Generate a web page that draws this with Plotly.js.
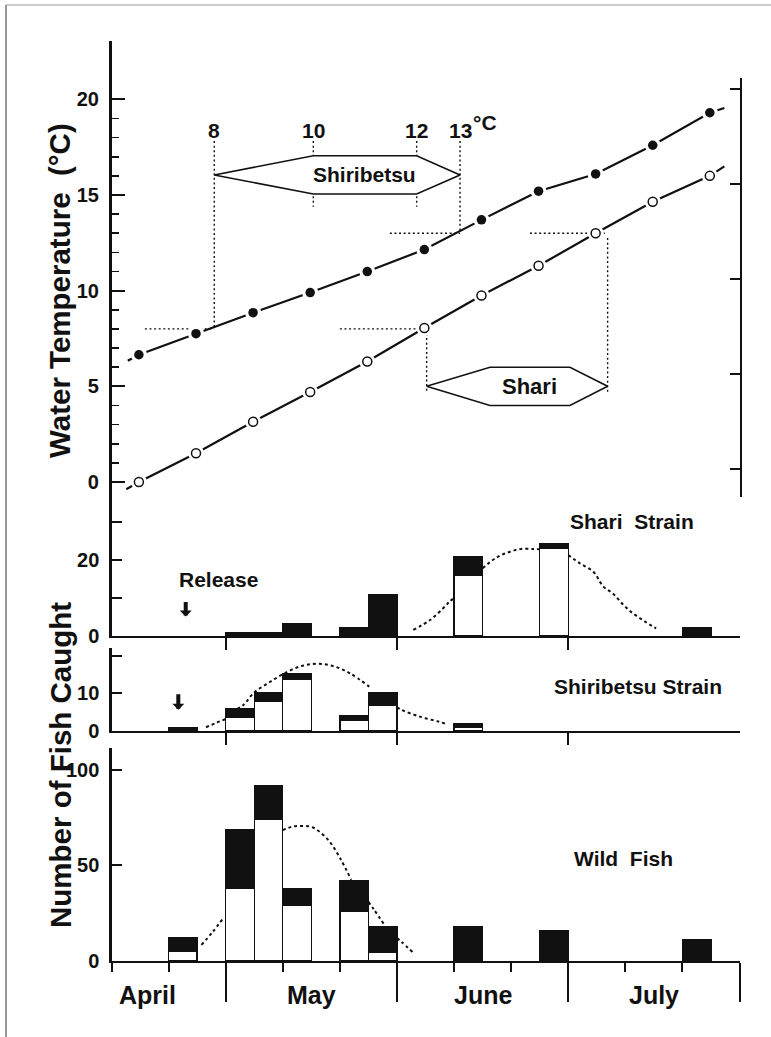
<!DOCTYPE html>
<html><head><meta charset="utf-8">
<script src="https://cdn.plot.ly/plotly-3.0.1.min.js"></script>
<style>html,body{margin:0;padding:0;background:#fff}#chart{width:771px;height:1037px}</style>
</head><body><div id="chart"></div>
<script>
// ================= DATA =================
// x axis unit = one 5-day half-period, 0 = 11 April
const halfPeriods = ['Apr 11','Apr 16','Apr 21','Apr 26','May 1','May 6','May 11','May 16','May 21','May 26',
  'Jun 1','Jun 6','Jun 11','Jun 16','Jun 21','Jun 26','Jul 1','Jul 6','Jul 11','Jul 16','Jul 21','Jul 26'];
const months = ['April', 'May', 'June', 'July'];
const monthCenters = [1.25, 7, 13, 19];
const monthBounds = [4, 10, 16, 22];
const halfTicks = [0, 2, 6, 8, 12, 14, 18, 20];

// water temperature (°C)
const tempDates = [0.96, 2.96, 4.96, 6.96, 8.96, 10.96, 12.96, 14.96, 16.96, 18.96, 20.96];
const shiribetsuTemp = [6.65, 7.75, 8.85, 9.9, 11.0, 12.15, 13.7, 15.2, 16.1, 17.6, 19.3];
const shariTemp = [0.0, 1.5, 3.15, 4.7, 6.3, 8.05, 9.75, 11.3, 13.0, 14.65, 16.0];
const shiribetsuLineEnds = [[0.57, 6.34], [21.47, 19.55]];
const shariLineEnds = [[0.52, -0.38], [21.47, 16.5]];

// dates at which 8, 10, 12, 13 °C are reached
const thresholdTemps = [8, 10, 12, 13];
const shiribetsuThreshDates = [3.6, 7.07, 10.69, 12.21];
const shariThreshDates = [11.04, 13.26, 16.06, 17.38];

// fish caught per half-period (white part / black part of each bar)
const shariWhite = [null,null,null,null,null,null,null,null,null,null,null,null,16,null,null,23,null,null,null,null,null,null];
const shariBlack = [null,null,null,null,1,1,3.3,null,2.2,11,null,null,5,null,null,1.3,null,null,null,null,2.3,null];
const shiribetsuWhite = [null,null,null,null,3.6,7.8,13.8,null,2.7,6.7,null,null,1.0,null,null,null,null,null,null,null,null,null];
const shiribetsuBlack = [null,null,1.0,null,2.2,2.4,1.3,null,1.3,3.5,null,null,1.0,null,null,null,null,null,null,null,null,null];
const wildWhite = [null,null,5,null,38,74,29,null,26,4.5,null,null,null,null,null,null,null,null,null,null,null,null];
const wildBlack = [null,null,7,null,31,18,9,null,16,13.5,null,null,18,null,null,16,null,null,null,null,11,null];

// dotted fitted curves (visible parts only)
const shariCurveX = [10.57, 11.16, 11.62, 11.84, 12.0, null, 13.0, 13.5, 13.94, 14.35, 14.76, 15.0, null, 16.0, 16.41, 16.88, 17.23, 17.56, 17.93, 18.26, 18.69, 19.08];
const shariCurveY = [1.6, 4.2, 7.3, 9.0, 10.0, null, 17.8, 20.7, 22.1, 22.9, 22.9, 22.8, null, 21.3, 19.1, 16.9, 13.0, 11.2, 8.2, 6.0, 3.8, 2.0];
const shiribetsuCurveX = [3.31, 3.68, 3.98, null, 4.4, 4.62, 5.0, 5.49, 5.99, 6.6, 7.19, 7.77, 8.35, 9.03, null, 10.0, 10.16, 10.8, 11.45, 11.68];
const shiribetsuCurveY = [1.0, 2.2, 3.1, null, 5.8, 6.9, 10.2, 12.7, 15.0, 17.1, 17.8, 17.2, 15.3, 11.75, null, 6.3, 5.6, 3.8, 2.5, 2.0];
const wildCurveX = [3.15, 3.55, 3.91, null, 6.0, 6.3, 6.58, 7.04, 7.59, 8.01, 8.4, null, 9.0, 9.19, 9.59, null, 10.0, 10.16, 10.56];
const wildCurveY = [8.4, 15.3, 22.3, null, 68.5, 70.2, 70.7, 70.0, 63.4, 53.8, 42.5, null, 31, 27, 18.3, null, 12, 10, 4.5];

// ================= STYLE / LAYOUT =================
const FONT = 'Liberation Sans, Arial, Helvetica, sans-serif';
const INK = '#111';
const W = 771, H = 1037;
const px = p => p / W;
const py = p => 1 - p / H;
const xDom = [px(111.5), px(739.5)];
const tickFont = {family: FONT, size: 20, color: INK, weight: 'bold'};
const barX = halfPeriods.map((_, i) => i + 0.5);

const traces = [];

// ---- top panel guides ----
const gx = [], gy = [];
function seg(x1, y1, x2, y2) { gx.push(x1, x2, null); gy.push(y1, y2, null); }
const labelBottom = 17.82;
// Shiribetsu
seg(shiribetsuThreshDates[0], labelBottom, shiribetsuThreshDates[0], thresholdTemps[0]);
seg(1.17, thresholdTemps[0], shiribetsuThreshDates[0], thresholdTemps[0]);
seg(shiribetsuThreshDates[1], labelBottom, shiribetsuThreshDates[1], 14.39);
seg(shiribetsuThreshDates[2], labelBottom, shiribetsuThreshDates[2], 14.39);
seg(shiribetsuThreshDates[3], labelBottom, shiribetsuThreshDates[3], thresholdTemps[3]);
seg(9.75, thresholdTemps[3], shiribetsuThreshDates[3], thresholdTemps[3]);
// Shari
seg(8.0, thresholdTemps[0], shariThreshDates[0], thresholdTemps[0]);
seg(shariThreshDates[0], thresholdTemps[0], shariThreshDates[0], 4.64);
seg(14.66, thresholdTemps[3], shariThreshDates[3] - 0.1, thresholdTemps[3]);
seg(shariThreshDates[3], 12.75, shariThreshDates[3], 4.64);
traces.push({x: gx, y: gy, xaxis: 'x', yaxis: 'y', mode: 'lines', line: {color: INK, width: 1.4, dash: '2px,2.6px'}, hoverinfo: 'skip'});

// hexagons
function hexTrace(d, c) {
  return {x: [d[0], d[1], d[2], d[3], d[2], d[1], d[0]], y: [c, c + 1, c + 1, c, c - 1, c - 1, c],
    xaxis: 'x', yaxis: 'y', mode: 'lines', fill: 'toself', fillcolor: 'white',
    line: {color: INK, width: 1.6}, hoverinfo: 'skip'};
}
traces.push(hexTrace(shiribetsuThreshDates, 16.05));
traces.push(hexTrace(shariThreshDates, 5.0));

// temperature lines
function lineTrace(ends, ys) {
  return {x: [ends[0][0], ...tempDates, ends[1][0]], y: [ends[0][1], ...ys, ends[1][1]],
    xaxis: 'x', yaxis: 'y', mode: 'lines', line: {color: INK, width: 2.2}, hoverinfo: 'skip'};
}
traces.push(lineTrace(shiribetsuLineEnds, shiribetsuTemp));
traces.push(lineTrace(shariLineEnds, shariTemp));
// white gaps round the points
traces.push({x: tempDates.concat(tempDates), y: shiribetsuTemp.concat(shariTemp), xaxis: 'x', yaxis: 'y', mode: 'markers',
  marker: {size: 16, color: 'white'}, hoverinfo: 'skip'});
traces.push({x: tempDates, y: shiribetsuTemp, xaxis: 'x', yaxis: 'y', mode: 'markers',
  marker: {size: 9.5, color: INK, line: {width: 0}}, hoverinfo: 'skip'});
traces.push({x: tempDates, y: shariTemp, xaxis: 'x', yaxis: 'y', mode: 'markers',
  marker: {size: 9, color: 'white', line: {color: INK, width: 1.5}}, hoverinfo: 'skip'});

// dummy trace for the right-hand temperature axis
traces.push({x: [], y: [], xaxis: 'x', yaxis: 'y5', mode: 'markers', hoverinfo: 'skip'});

// ---- bar panels ----
function bars(vals, fill, xa, ya) {
  return {type: 'bar', x: barX, y: vals, width: 1, xaxis: xa, yaxis: ya,
    marker: {color: fill, line: {color: INK, width: 1.3}}, hoverinfo: 'skip'};
}
function curve(xs, ys, xa, ya) {
  return {x: xs, y: ys, xaxis: xa, yaxis: ya, mode: 'lines', line: {color: INK, width: 2, dash: '3px,3px', shape: 'spline', smoothing: 1},
    connectgaps: false, hoverinfo: 'skip'};
}
traces.push(bars(shariWhite, 'white', 'x2', 'y2'), bars(shariBlack, INK, 'x2', 'y2'));
traces.push(curve(shariCurveX, shariCurveY, 'x2', 'y2'));
traces.push(bars(shiribetsuWhite, 'white', 'x3', 'y3'), bars(shiribetsuBlack, INK, 'x3', 'y3'));
traces.push(curve(shiribetsuCurveX, shiribetsuCurveY, 'x3', 'y3'));
traces.push(bars(wildWhite, 'white', 'x4', 'y4'), bars(wildBlack, INK, 'x4', 'y4'));
traces.push(curve(wildCurveX, wildCurveY, 'x4', 'y4'));

const baseX = {domain: xDom, range: [0, 22], showgrid: false, zeroline: false, fixedrange: true};
const yCommon = {showline: true, linecolor: INK, linewidth: 2.2, ticks: 'inside', tickwidth: 2, tickcolor: INK,
  tickfont: tickFont, ticklabelstandoff: 6, showgrid: false, zeroline: false, fixedrange: true};
const xPanel = {...baseX, showline: true, linecolor: INK, linewidth: 2, ticks: 'outside', tickwidth: 2, tickcolor: INK,
  showticklabels: false};

const minorTemp = [];
for (const v of [1,2,3,4,6,7,8,9,11,12,13,14,16,17,18,19]) minorTemp.push(v);

const ann = [];
const annFont = s => ({family: FONT, size: s, color: INK, weight: 'bold'});
ann.push({xref: 'paper', yref: 'paper', x: px(60), y: py(291), text: 'Water Temperature\u00A0\u00A0(°C)', textangle: -90,
  showarrow: false, font: annFont(29.5), xanchor: 'center', yanchor: 'middle'});
ann.push({xref: 'paper', yref: 'paper', x: px(60), y: py(765), text: 'Number of Fish Caught', textangle: -90,
  showarrow: false, font: annFont(29.5), xanchor: 'center', yanchor: 'middle'});
months.forEach((m, i) => ann.push({xref: 'x4', yref: 'paper', x: monthCenters[i], y: py(995), text: m, showarrow: false,
  font: annFont(25), xanchor: 'center', yanchor: 'middle'}));
thresholdTemps.forEach((t, i) => ann.push({xref: 'x', yref: 'y', x: shiribetsuThreshDates[i], y: 18.37, text: String(t),
  showarrow: false, font: annFont(21), xanchor: 'center', yanchor: 'middle'}));
ann.push({xref: 'x', yref: 'y', x: shiribetsuThreshDates[3], y: 18.8, xshift: 11, text: '°C', showarrow: false,
  font: annFont(21), xanchor: 'left', yanchor: 'middle'});
ann.push({xref: 'x', yref: 'y', x: (shiribetsuThreshDates[1] + shiribetsuThreshDates[2]) / 2, y: 16.05, text: 'Shiribetsu',
  showarrow: false, font: annFont(21), xanchor: 'center', yanchor: 'middle'});
ann.push({xref: 'x', yref: 'y', x: (shariThreshDates[1] + shariThreshDates[2]) / 2, y: 5.0, text: 'Shari',
  showarrow: false, font: annFont(22), xanchor: 'center', yanchor: 'middle'});
ann.push({xref: 'x2', yref: 'y2', x: 18.23, y: 30.1, text: 'Shari\u00A0 Strain', showarrow: false, font: annFont(21)});
ann.push({xref: 'x3', yref: 'y3', x: 18.44, y: 11.75, text: 'Shiribetsu Strain', showarrow: false, font: annFont(21)});
ann.push({xref: 'x4', yref: 'y4', x: 17.92, y: 53.8, text: 'Wild\u00A0 Fish', showarrow: false, font: annFont(21)});
ann.push({xref: 'x2', yref: 'y2', x: 3.75, y: 14.9, text: 'Release', showarrow: false, font: annFont(21)});
ann.push({xref: 'x2', yref: 'y2', x: 2.6, y: 5.1, ax: 0, ay: -16, text: '', showarrow: true, arrowhead: 1,
  arrowwidth: 4, arrowsize: 0.5, arrowcolor: INK});
ann.push({xref: 'x3', yref: 'y3', x: 2.34, y: 5.6, ax: 0, ay: -17, text: '', showarrow: true, arrowhead: 1,
  arrowwidth: 4, arrowsize: 0.5, arrowcolor: INK});

const layout = {
  width: W, height: H, margin: {l: 0, r: 0, t: 0, b: 0},
  paper_bgcolor: 'white', plot_bgcolor: 'rgba(0,0,0,0)', showlegend: false,
  barmode: 'stack', bargap: 0,
  xaxis: {...baseX, anchor: 'y', visible: false},
  yaxis: {...yCommon, domain: [py(490), py(41)], range: [-0.42, 23.05], anchor: 'x', linewidth: 2.6,
    tickvals: [0, 5, 10, 15, 20], ticklen: 13,
    minor: {tickmode: 'array', tickvals: minorTemp, ticks: 'inside', ticklen: 7, tickwidth: 1.6, tickcolor: INK, showgrid: false}},
  yaxis5: {domain: [py(497), py(78)], range: [-1.458, 20.595], anchor: 'x', side: 'right', showline: true, linecolor: INK,
    linewidth: 2, ticks: 'inside', ticklen: 10, tickwidth: 2, tickcolor: INK, tickvals: [0, 5, 10, 15, 20],
    showticklabels: false, showgrid: false, zeroline: false, fixedrange: true},
  xaxis2: {...xPanel, anchor: 'y2', ticklen: 12, tickvals: monthBounds.slice(0, 3)},
  yaxis2: {...yCommon, domain: [py(636), py(490)], range: [0, 38.4], anchor: 'x2', ticklen: 10,
    tickvals: [0, 10, 20, 30], ticktext: ['0', '', '20', '']},
  xaxis3: {...xPanel, anchor: 'y3', ticklen: 12, tickvals: monthBounds.slice(0, 3)},
  yaxis3: {...yCommon, domain: [py(731), py(648)], range: [0, 22], anchor: 'x3', ticklen: 10,
    tickvals: [0, 10, 20], ticktext: ['0', '10', '']},
  xaxis4: {...xPanel, anchor: 'y4', ticklen: 39, tickvals: monthBounds,
    minor: {tickmode: 'array', tickvals: halfTicks, ticks: 'outside', ticklen: 9, tickwidth: 2, tickcolor: INK, showgrid: false}},
  yaxis4: {...yCommon, domain: [py(961), py(748)], range: [0, 111.5], anchor: 'x4', ticklen: 10,
    tickvals: [0, 50, 100]},
  annotations: ann,
  shapes: [
    {type: 'line', xref: 'paper', yref: 'paper', x0: px(6), x1: px(6), y0: 0, y1: py(5), line: {color: '#777', width: 1.5}},
    {type: 'line', xref: 'paper', yref: 'paper', x0: px(6), x1: 1, y0: py(5), y1: py(5), line: {color: '#999', width: 1.2}}
  ]
};

Plotly.newPlot('chart', traces, layout, {staticPlot: true, displayModeBar: false});
</script>
</body></html>
